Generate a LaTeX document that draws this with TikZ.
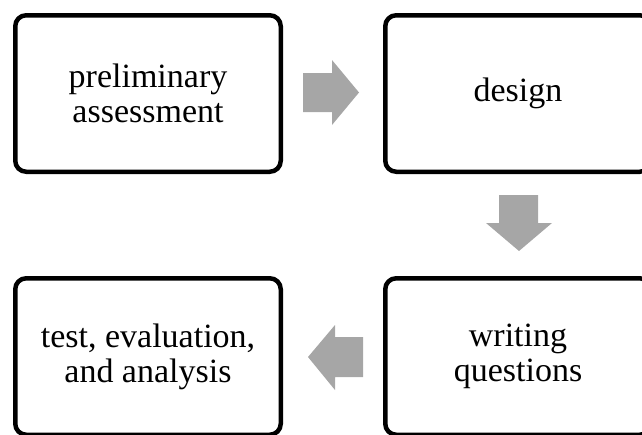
\documentclass[tikz,border=0pt]{standalone}
\usepackage{fontspec}
\setmainfont{Liberation Serif}
\definecolor{arrowgray}{RGB}{166,166,166}
\begin{document}
\begin{tikzpicture}[x=1pt,y=-1pt,
  stepbox/.style={draw=black,line width=4.5pt,rounded corners=11pt,fill=white,
    minimum width=265.5pt,minimum height=156.5pt,align=center,inner sep=0pt,
    font=\fontsize{34}{35}\selectfont},
  blockarrow/.style={fill=arrowgray,draw=none}]
\useasboundingbox (0,0) rectangle (642,434);
\node[stepbox] (pa) at (148,93.5) {preliminary\\assessment};
\node[stepbox] (de) at (518,93.5) {design};
\node[stepbox] (wq) at (518,356.5) {writing\\questions};
\node[stepbox] (te) at (148,356.5) {test, evaluation,\\and analysis};
% arrows
\fill[blockarrow] (303,73) -- (332,73) -- (332,60) -- (359,92.5) -- (332,125) -- (332,112) -- (303,112) -- cycle;
\fill[blockarrow] (499,195) -- (538,195) -- (538,223) -- (552,223) -- (519,251) -- (486,223) -- (499,223) -- cycle;
\fill[blockarrow] (363,337) -- (335,337) -- (335,325) -- (308,357) -- (335,390) -- (335,377) -- (363,377) -- cycle;
\end{tikzpicture}
\end{document}
